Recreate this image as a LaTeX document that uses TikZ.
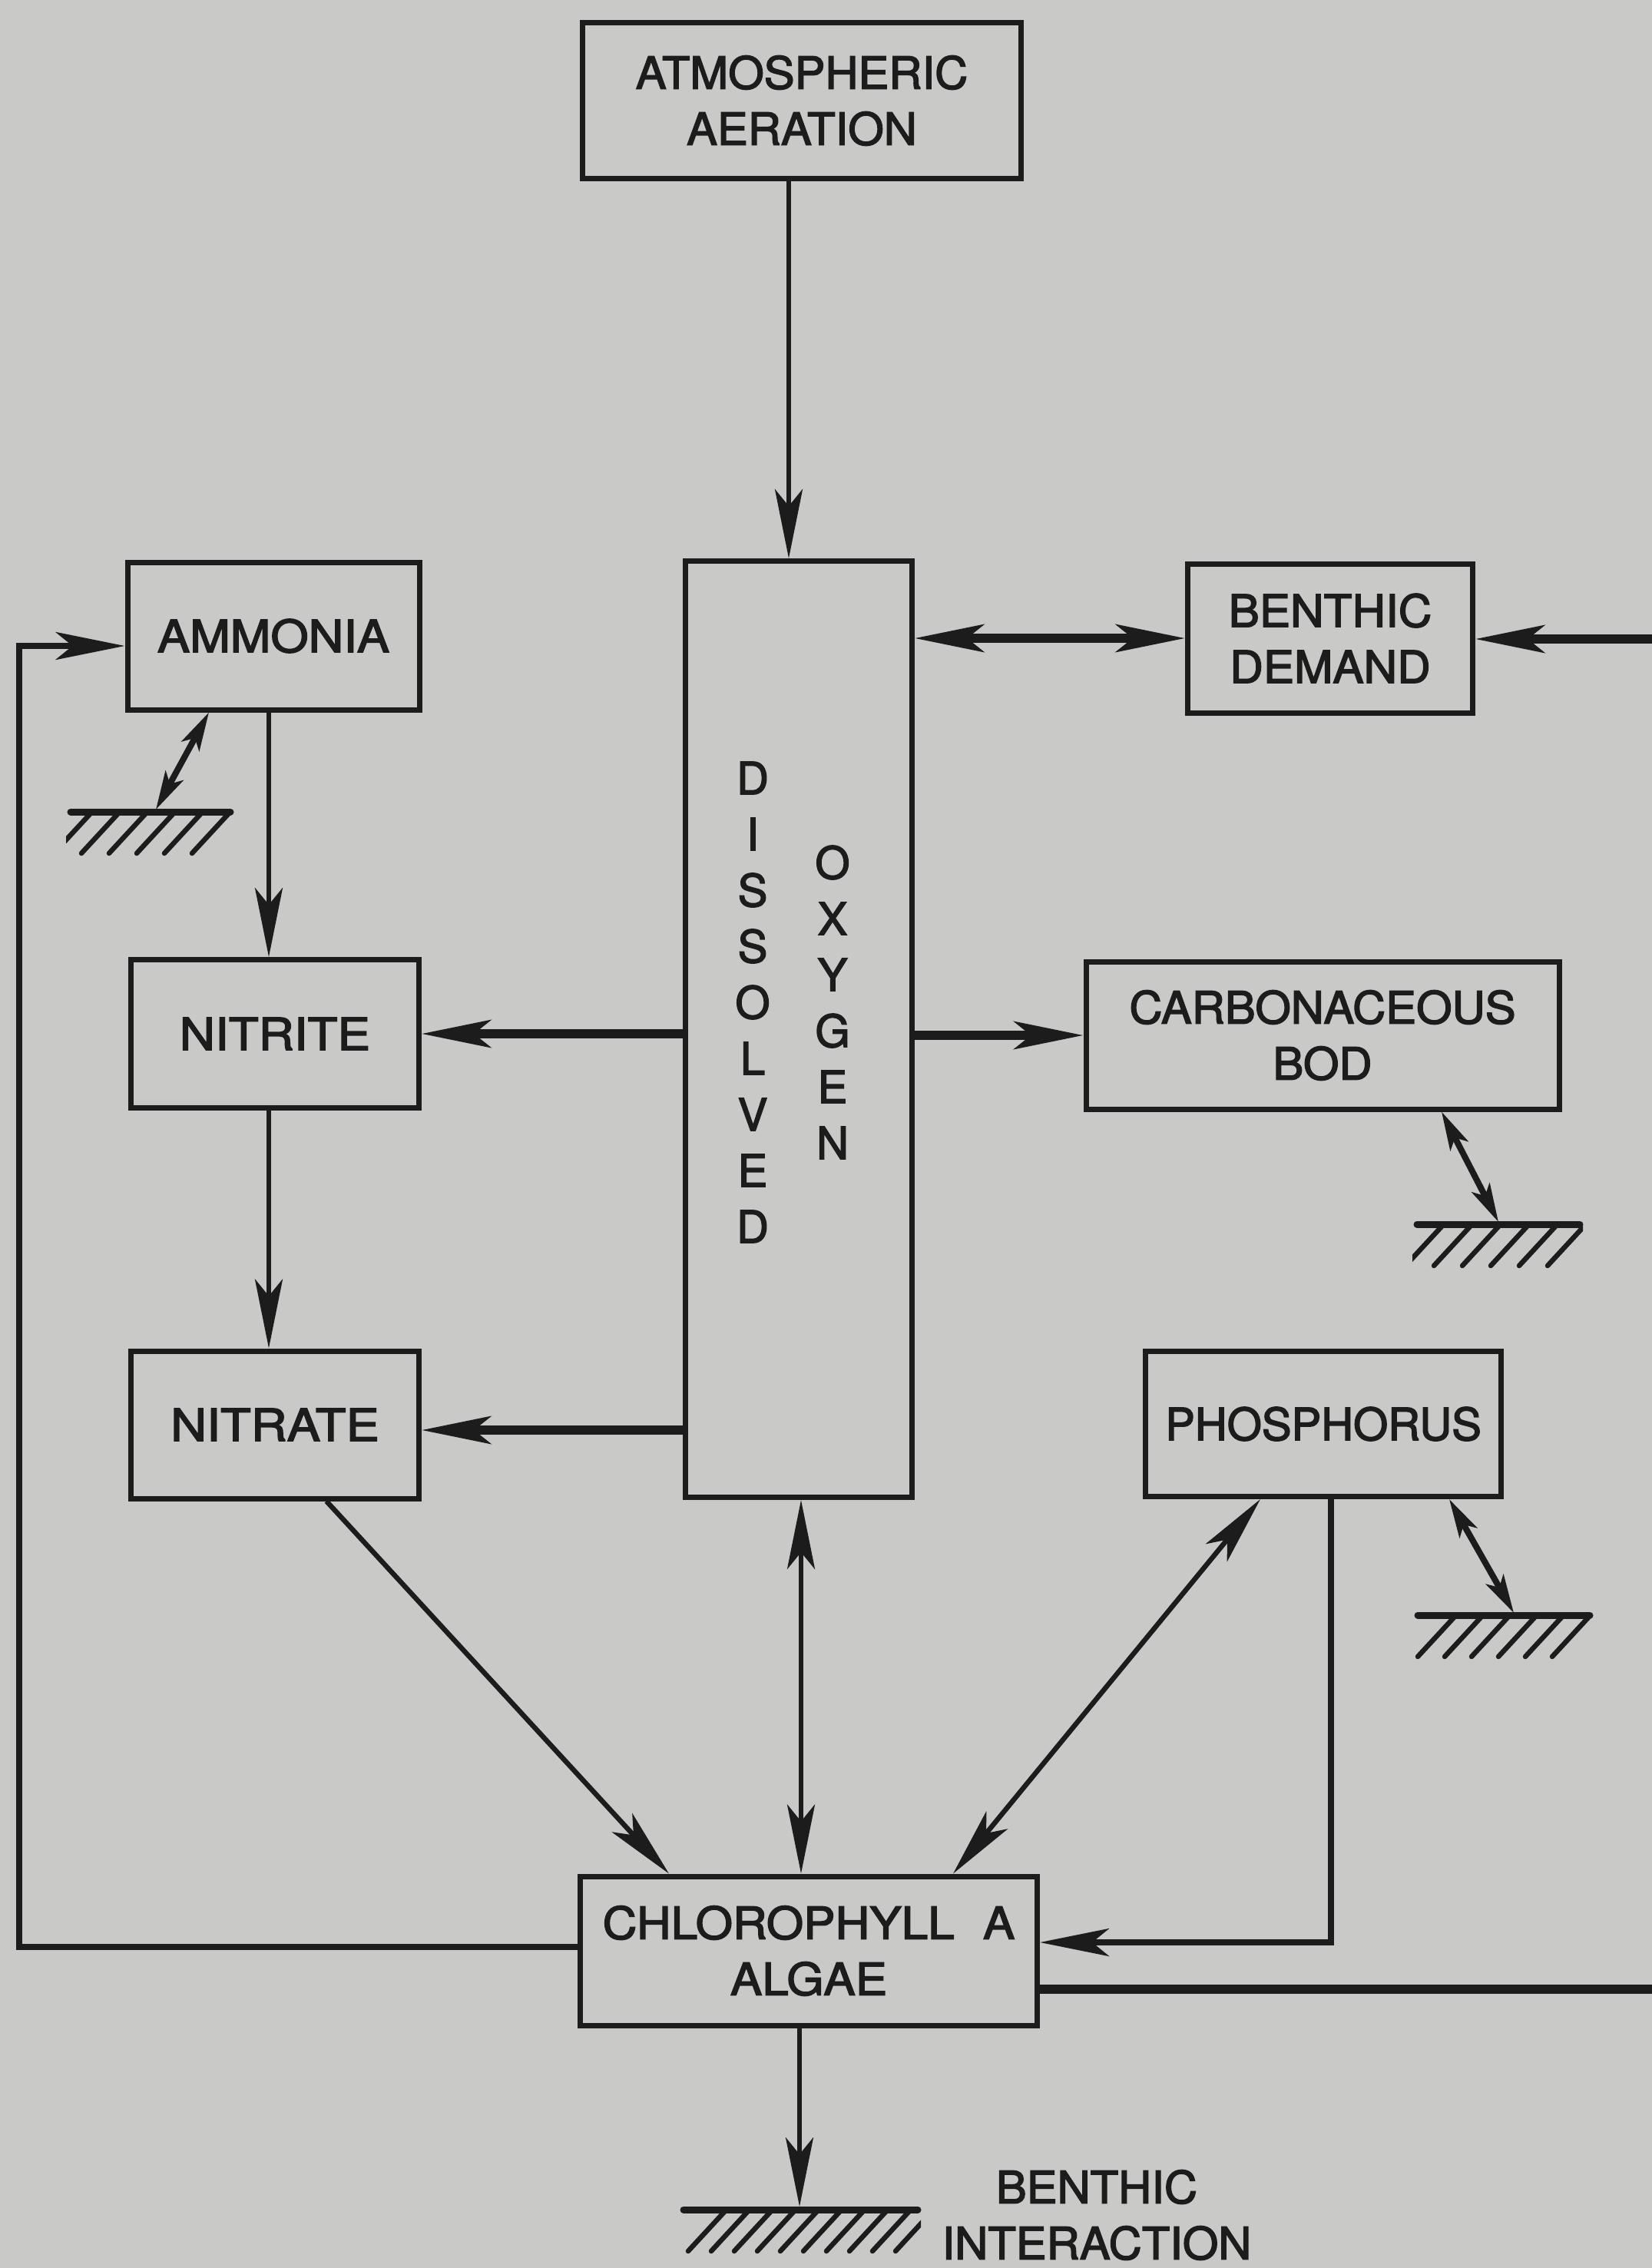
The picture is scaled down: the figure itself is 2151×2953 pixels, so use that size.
\documentclass[tikz,border=0pt]{standalone}
\usepackage{fontspec}
\usepackage{graphicx}
\setmainfont{TeX Gyre Heros}
\usetikzlibrary{arrows.meta,calc}
\definecolor{paper}{RGB}{201,201,199}
\definecolor{ink}{RGB}{28,28,28}
\newcommand\dfont{\fontsize{58}{73}\selectfont\addfontfeatures{FakeBold=2.5}}
\newcommand\wide[2]{\scalebox{#1}[1]{#2}}
% ground (sediment) symbol: xa, xb, y, number of strokes, spacing, offset of first stroke
\newcommand\groundsym[6]{%
  \draw[ink, line width=9pt, line cap=round] (#1,#3) -- (#2,#3);
  \begin{scope}
    \clip (#1-6,#3+2) rectangle (#2+4,#3+60);
    \foreach \k in {1,...,#4}{
      \draw[ink, line width=6.5pt, line cap=round] (#1+#6+\k*#5-#5,#3+2) -- ++(-48,52);
    }
  \end{scope}}
\begin{document}
\begin{tikzpicture}[x=1pt,y=-1pt,
  >={Stealth[length=90pt,width=36pt,inset=22pt]},
  box/.style={draw=ink, line width=7pt, inner sep=0pt, align=center,
    font=\dfont, text=ink},
  thin/.style={draw=ink, line width=6.5pt},
  thick/.style={draw=ink, line width=11.5pt},
  sed/.style={draw=ink, line width=8pt,
    {Stealth[length=50pt,width=26pt,inset=12pt]}-{Stealth[length=50pt,width=26pt,inset=12pt]}},
  lbl/.style={font=\dfont, text=ink, align=center, inner sep=0pt}]
\useasboundingbox (0,0) rectangle (2151,2953);
\fill[paper] (0,0) rectangle (2151,2953);
\clip (0,0) rectangle (2151,2953);

% boxes
\node[box, minimum width=571pt, minimum height=203pt] (atmos) at (1044,131) {\wide{1.03}{ATMOSPHERIC}\\\wide{1.03}{AERATION}};
\node[box, minimum width=380pt, minimum height=192pt] (amm) at (356,828) {\wide{1.09}{AMMONIA}};
\node[box, minimum width=371pt, minimum height=194pt] (bd) at (1732,831) {\wide{1.04}{BENTHIC}\\\wide{1.04}{DEMAND}};
\node[box, minimum width=295pt, minimum height=1219pt] (do) at (1040,1340) {};
\node[box, minimum width=375pt, minimum height=193pt] (nitrite) at (358,1346) {\wide{1.1}{NITRITE}};
\node[box, minimum width=616pt, minimum height=192pt] (cbod) at (1722,1348) {\wide{1.03}{CARBONACEOUS}\\\wide{1.03}{BOD}};
\node[box, minimum width=375pt, minimum height=192pt] (nitrate) at (358,1855) {\wide{1.12}{NITRATE}};
\node[box, minimum width=463pt, minimum height=189pt] (phos) at (1723,1854) {PHOSPHORUS};
\node[box, minimum width=595pt, minimum height=194pt] (chl) at (1053,2540) {\wide{1.07}{CHLOROPHYLL\hspace{0.6em}A}\\\wide{1.07}{ALGAE}};

% dissolved oxygen lettering
\node[lbl] (dtxt) at (980,1305) {D\\I\\S\\S\\O\\L\\V\\E\\D};
\node[lbl] (otxt) at (1084,1305) {O\\X\\Y\\G\\E\\N};

% benthic interaction label
\node[lbl] (bitxt) at (1428,2884) {\wide{1.03}{BENTHIC}\\\wide{1.03}{INTERACTION}};

% helper coordinates
\coordinate (xatm) at (1027,0);
\coordinate (xn) at (350,0);
\coordinate (ynitrate) at (0,1862);
\coordinate (LL) at (25,2535);
\coordinate (LU) at (25,841);
\coordinate (RL) at (2220,2590);
\coordinate (RU) at (2220,832);
\coordinate (PB) at (1733,2529);
\coordinate (xd1) at (425,0);
\coordinate (xd2) at (871,0);
\coordinate (xdo) at (1043,0);
\coordinate (xp1) at (1641,0);
\coordinate (xp2) at (1241,0);
\coordinate (xas) at (272,0);
\coordinate (gA) at (203,1054);
\coordinate (xcs) at (1877,0);
\coordinate (gC) at (1951,1591);
\coordinate (xps) at (1887,0);
\coordinate (gP) at (1971,2100);
\coordinate (xcb) at (1041,0);
\coordinate (gB) at (1041,2873);

% ground symbols
\groundsym{92}{300}{1057}{6}{36}{26}
\groundsym{1845}{2057}{1594}{6}{37}{33}
\groundsym{1846}{2070}{2103}{6}{35}{48}
\groundsym{890}{1195}{2877}{10}{30}{54}

% connectors
\draw[thin,->] (atmos.south -| xatm) -- (do.north -| xatm);
\draw[thick,<->] (do.east |- bd.west) -- (bd.west);
\draw[thick,->] (RL) -- (RU) -- (bd.east |- RU);
\draw[thick] (chl.east |- RL) -- (RL);
\draw[thick,->] (do.west |- nitrite.east) -- (nitrite.east);
\draw[thick,->] (do.east |- cbod.west) -- (cbod.west);
\draw[thick,->] (do.west |- ynitrate) -- (nitrate.east |- ynitrate);
\draw[thin,->] (amm.south -| xn) -- (nitrite.north -| xn);
\draw[thin,->] (nitrite.south -| xn) -- (nitrate.north -| xn);
\draw[line width=8pt, draw=ink, ->] (chl.west |- LL) -- (LL) -- (LU) -- (amm.west |- LU);
\draw[line width=7.5pt, draw=ink, ->] (phos.south -| PB) -- (PB) -- (chl.east |- PB);
\draw[thin,->] (nitrate.south -| xd1) -- (chl.north -| xd2);
\draw[thin,<->] (do.south -| xdo) -- (chl.north -| xdo);
\draw[thin,<->] (phos.south -| xp1) -- (chl.north -| xp2);
\draw[thin,->] (chl.south -| xcb) -- (gB);
\draw[sed] (amm.south -| xas) -- (gA);
\draw[sed] (cbod.south -| xcs) -- (gC);
\draw[sed] (phos.south -| xps) -- (gP);
\end{tikzpicture}
\end{document}
